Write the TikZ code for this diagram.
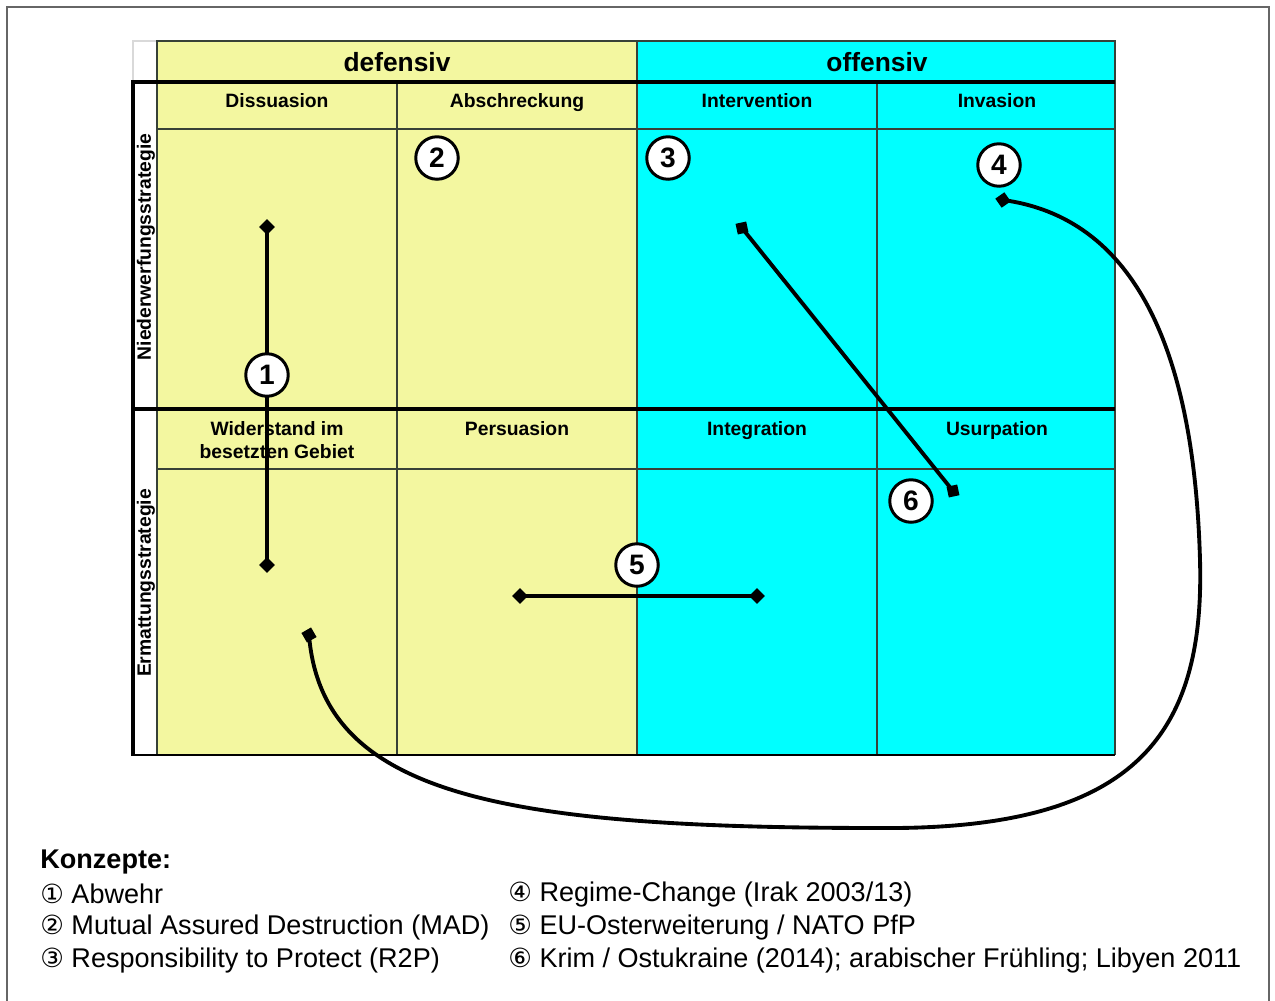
\documentclass[tikz,border=0pt]{standalone}
\usepackage{fontspec}
\setmainfont{Liberation Sans}
\newfontfamily\circfont{DejaVu Sans}
\usepackage{tikz}

\definecolor{defyellow}{RGB}{243,247,160}
\definecolor{offcyan}{RGB}{0,255,255}
\definecolor{gridgray}{RGB}{55,65,55}
\newcommand\cnum[1]{{\circfont\fontsize{15}{17}\selectfont #1}}

\begin{document}
\begin{tikzpicture}[x=0.02cm, y=-0.02cm,
    mainhead/.style={font=\fontsize{15}{17}\selectfont\bfseries},
    colhead/.style={font=\fontsize{11}{13.5}\selectfont\bfseries, text height=8pt, text depth=2.5pt},
    sidehead/.style={font=\fontsize{11}{12}\selectfont\bfseries, rotate=90},
    numcirc/.style={circle, draw, line width=1.7pt, fill=white, inner sep=0pt,
        minimum size=0.85cm, font=\fontsize{16}{16}\selectfont\bfseries},
    conn/.style={line width=2.2pt},
    diamark/.style={rectangle, fill=black, inner sep=0pt, minimum size=6.3pt, rotate=45},
    sqmark/.style={rectangle, fill=black, inner sep=0pt, minimum size=6.2pt, rotate=12},
    legend/.style={anchor=west, inner sep=0pt, font=\fontsize{15.4}{17}\selectfont}]
    \useasboundingbox (0,0) rectangle (1275,1001);
    \draw[gray!80!black, line width=0.8pt] (7,7) rectangle (1269,1030);

    % fields
    \fill[defyellow] (157,41) rectangle (637,755);
    \fill[offcyan] (637,41) rectangle (1115,755);
    \draw[black!15, line width=0.6pt] (133,41) rectangle (157,82);

    % thin grid
    \draw[gridgray, line width=0.7pt] (157,755) -- (157,41) -- (1115,41) -- (1115,755);
    \draw[gridgray, line width=0.7pt] (637,41) -- (637,755);
    \draw[gridgray, line width=0.7pt] (397,82) -- (397,755);
    \draw[gridgray, line width=0.7pt] (877,82) -- (877,755);
    \draw[gridgray, line width=0.7pt] (157,129) -- (1115,129);
    \draw[gridgray, line width=0.7pt] (157,469) -- (1115,469);

    % thick frame
    \draw[line width=2.8pt] (1115,82) -- (133,82) -- (133,755);
    \draw[line width=2.8pt] (133,409) -- (1115,409);
    \draw[line width=1.6pt] (131,755) -- (1115,755);

    % headings
    \node[mainhead] (defensiv) at (397,62) {defensiv};
    \node[mainhead] (offensiv) at (877,62) {offensiv};
    \node[colhead] (dissuasion) at (277,103) {Dissuasion};
    \node[colhead] (abschreckung) at (517,103) {Abschreckung};
    \node[colhead] (intervention) at (757,103) {Intervention};
    \node[colhead] (invasion) at (997,103) {Invasion};
    \node[font=\fontsize{11}{13.5}\selectfont\bfseries, align=center] (widerstand) at (277,440) {Widerstand im\\besetzten Gebiet};
    \node[colhead] (persuasion) at (517,431) {Persuasion};
    \node[colhead] (integration) at (757,431) {Integration};
    \node[colhead] (usurpation) at (997,431) {Usurpation};
    \node[sidehead] (niederwerfung) at (146,247) {Niederwerfungsstrategie};
    \node[sidehead] (ermattung) at (146,583) {Ermattungsstrategie};

    % end points
    \node[diamark] (abwehrA) at (267,227) {};
    \node[diamark] (abwehrB) at (267,565) {};
    \node[sqmark] (krimA) at (742,228) {};
    \node[sqmark] (krimB) at (953,491) {};
    \node[diamark] (osterA) at (520,596) {};
    \node[diamark] (osterB) at (757,596) {};
    \node[diamark, rotate=-10] (regimeA) at (1003,200) {};
    \node[diamark, rotate=-15] (regimeB) at (309,635) {};

    % connectors
    \draw[conn] (abwehrA.center) -- (abwehrB.center);
    \draw[conn] (krimA.center) -- (krimB.center);
    \draw[conn] (osterA.center) -- (osterB.center);
    \draw[conn] (regimeA.center) .. controls (1150,220) and (1195,380) .. (1200,560)
        .. controls (1205,740) and (1130,830) .. (880,828)
        .. controls (500,828) and (322,795) .. (regimeB.center);

    % numbers
    \node[numcirc] (c1) at (267,375) {1};
    \node[numcirc] (c2) at (437,158) {2};
    \node[numcirc] (c3) at (668,158) {3};
    \node[numcirc] (c4) at (999,165) {4};
    \node[numcirc] (c5) at (637,565) {5};
    \node[numcirc] (c6) at (911,501) {6};

    % legend
    \node[legend, font=\fontsize{15.4}{17}\selectfont\bfseries] (konzepte) at (40,862) {Konzepte:};
    \node[legend] (k1) at (40,894) {\cnum{①} Abwehr};
    \node[legend] (k2) at (40,927) {\cnum{②} Mutual Assured Destruction (MAD)};
    \node[legend] (k3) at (40,960) {\cnum{③} Responsibility to Protect (R2P)};
    \node[legend] (k4) at (508,894) {\cnum{④} Regime-Change (Irak 2003/13)};
    \node[legend] (k5) at (508,927) {\cnum{⑤} EU-Osterweiterung / NATO PfP};
    \node[legend] (k6) at (508,960) {\cnum{⑥} Krim / Ostukraine (2014); arabischer Frühling; Libyen 2011};
\end{tikzpicture}
\end{document}
